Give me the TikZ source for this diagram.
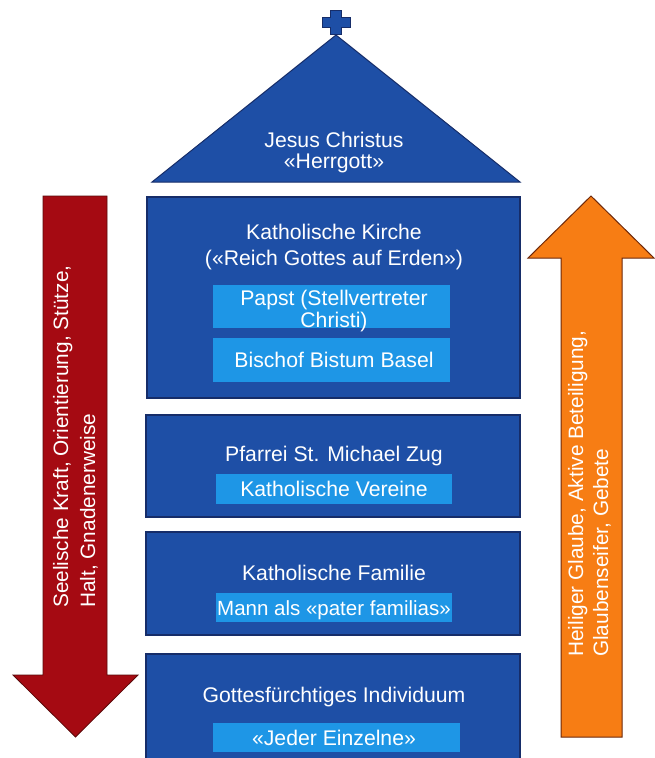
\documentclass[tikz,border=0pt]{standalone}
\usepackage{fontspec}
\setmainfont{Liberation Sans}
\definecolor{dblue}{RGB}{30,79,166}
\definecolor{dborder}{RGB}{22,45,105}
\definecolor{lblue}{RGB}{30,150,230}
\definecolor{rred}{RGB}{165,10,18}
\definecolor{rborder}{RGB}{90,10,10}
\definecolor{oorange}{RGB}{247,125,20}
\definecolor{oborder}{RGB}{110,40,10}
\begin{document}
\begin{tikzpicture}[x=1pt,y=-1pt,
  bigbox/.style={draw=dborder, line width=1.2pt, fill=dblue, inner sep=0pt},
  smallbox/.style={fill=lblue, inner sep=0pt},
  lbl/.style={text=white, font=\fontsize{21.2}{21.2}\selectfont, inner sep=0pt, anchor=base},
  side/.style={text=white, font=\fontsize{20.8}{20.8}\selectfont, inner sep=0pt, rotate=90, anchor=base west},
  roofshape/.style={draw=dborder, line width=1pt, fill=dblue},
]
\clip (0,0) rectangle (655,758);
\fill[white] (0,0) rectangle (655,758);
% cross and roof
\path[roofshape] (330.5,10) -- (341.5,10) -- (341.5,17) -- (350,17) -- (350,27) -- (341.5,27) -- (341.5,34) -- (330.5,34) -- (330.5,27) -- (322,27) -- (322,17) -- (330.5,17) -- cycle;
\path[roofshape] (152,182) -- (520,182) -- (336,35) -- cycle;
\node[lbl] (jesus) at (334,147.5) {Jesus Christus};
\node[lbl] (herrgott) at (334,168) {«Herrgott»};
% boxes
\node[bigbox, minimum width=373pt, minimum height=201pt] (kirche) at (333.5,297.5) {};
\node[bigbox, minimum width=374pt, minimum height=102pt] (pfarrei) at (333,466) {};
\node[bigbox, minimum width=374pt, minimum height=103pt] (familie) at (333,583.5) {};
\node[bigbox, minimum width=374pt, minimum height=121pt] (indiv) at (333,714.5) {};
\node[smallbox, minimum width=237pt, minimum height=43pt] (papstbox) at (331.5,306.5) {};
\node[smallbox, minimum width=237pt, minimum height=44pt] (bischofbox) at (331.5,360) {};
\node[smallbox, minimum width=236pt, minimum height=30pt] (vereinebox) at (334,489) {};
\node[smallbox, minimum width=236pt, minimum height=29pt] (mannbox) at (334,607.5) {};
\node[smallbox, minimum width=247pt, minimum height=29pt] (jederbox) at (336.5,737.5) {};
% texts
\node[lbl] (kk) at (334,239) {Katholische Kirche};
\node[lbl] (reich) at (334,265) {(«Reich Gottes auf Erden»)};
\node[lbl] (papst) at (334,305) {Papst (Stellvertreter};
\node[lbl] (christi) at (334,327) {Christi)};
\node[lbl] (bischof) at (334,367) {Bischof Bistum Basel};
\node[lbl] (pf) at (334,461) {Pfarrei St. Michael Zug};
\node[lbl] (vereine) at (334,496) {Katholische Vereine};
\node[lbl] (fam) at (334,580) {Katholische Familie};
\node[lbl, font=\fontsize{20.5}{20.5}\selectfont] (mann) at (334,615) {Mann als «pater familias»};
\node[lbl] (gott) at (334,702) {Gottesfürchtiges Individuum};
\node[lbl] (jeder) at (334,745) {«Jeder Einzelne»};
% arrows
\path[fill=rred, draw=rborder, line width=0.8pt] (43,196) -- (107,196) -- (107,675) -- (138,675) -- (75.5,737) -- (13,675) -- (43,675) -- cycle;
\path[fill=oorange, draw=oborder, line width=1pt] (561,737) -- (622,737) -- (622,258) -- (654,258) -- (591,196) -- (528,258) -- (561,258) -- cycle;
\node[side] (red1) at (68,608) {Seelische Kraft, Orientierung, Stütze,};
\node[side] (red2) at (95,608) {Halt, Gnadenerweise};
\node[side] (or1) at (583,657) {Heiliger Glaube, Aktive Beteiligung,};
\node[side] (or2) at (608,657) {Glaubenseifer, Gebete};
\end{tikzpicture}
\end{document}
